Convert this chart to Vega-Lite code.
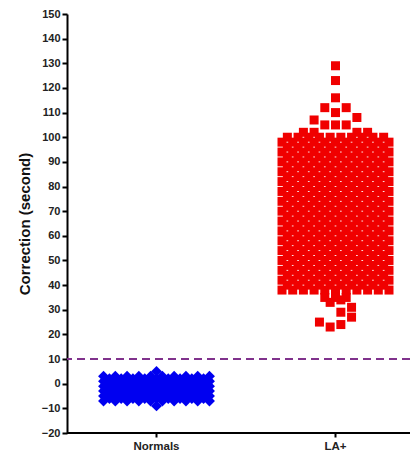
{
 "$schema": "https://vega.github.io/schema/vega-lite/v6.json",
 "width": 343,
 "height": 419,
 "autosize": "none",
 "padding": {"left": 67, "top": 14, "right": 0, "bottom": 20},
 "background": "white",
 "config": {"view": {"stroke": null}, "font": "Liberation Sans"},
 "datasets": {
  "points": [
   {"group":"Normals","value":5,"slot":0},
   {"group":"Normals","value":3,"slot":-4.95},{"group":"Normals","value":3,"slot":-3.85},{"group":"Normals","value":3,"slot":-2.75},{"group":"Normals","value":3,"slot":-1.65},{"group":"Normals","value":3,"slot":-0.55},{"group":"Normals","value":3,"slot":0.55},{"group":"Normals","value":3,"slot":1.65},{"group":"Normals","value":3,"slot":2.75},{"group":"Normals","value":3,"slot":3.85},{"group":"Normals","value":3,"slot":4.95},
   {"group":"Normals","value":2,"slot":-4.4},{"group":"Normals","value":2,"slot":-3.3},{"group":"Normals","value":2,"slot":-2.2},{"group":"Normals","value":2,"slot":-1.1},{"group":"Normals","value":2,"slot":0},{"group":"Normals","value":2,"slot":1.1},{"group":"Normals","value":2,"slot":2.2},{"group":"Normals","value":2,"slot":3.3},{"group":"Normals","value":2,"slot":4.4},
   {"group":"Normals","value":1,"slot":-4.95},{"group":"Normals","value":1,"slot":-3.85},{"group":"Normals","value":1,"slot":-2.75},{"group":"Normals","value":1,"slot":-1.65},{"group":"Normals","value":1,"slot":-0.55},{"group":"Normals","value":1,"slot":0.55},{"group":"Normals","value":1,"slot":1.65},{"group":"Normals","value":1,"slot":2.75},{"group":"Normals","value":1,"slot":3.85},{"group":"Normals","value":1,"slot":4.95},
   {"group":"Normals","value":0,"slot":-4.4},{"group":"Normals","value":0,"slot":-3.3},{"group":"Normals","value":0,"slot":-2.2},{"group":"Normals","value":0,"slot":-1.1},{"group":"Normals","value":0,"slot":0},{"group":"Normals","value":0,"slot":1.1},{"group":"Normals","value":0,"slot":2.2},{"group":"Normals","value":0,"slot":3.3},{"group":"Normals","value":0,"slot":4.4},
   {"group":"Normals","value":-1,"slot":-4.95},{"group":"Normals","value":-1,"slot":-3.85},{"group":"Normals","value":-1,"slot":-2.75},{"group":"Normals","value":-1,"slot":-1.65},{"group":"Normals","value":-1,"slot":-0.55},{"group":"Normals","value":-1,"slot":0.55},{"group":"Normals","value":-1,"slot":1.65},{"group":"Normals","value":-1,"slot":2.75},{"group":"Normals","value":-1,"slot":3.85},{"group":"Normals","value":-1,"slot":4.95},
   {"group":"Normals","value":-2,"slot":-4.4},{"group":"Normals","value":-2,"slot":-3.3},{"group":"Normals","value":-2,"slot":-2.2},{"group":"Normals","value":-2,"slot":-1.1},{"group":"Normals","value":-2,"slot":0},{"group":"Normals","value":-2,"slot":1.1},{"group":"Normals","value":-2,"slot":2.2},{"group":"Normals","value":-2,"slot":3.3},{"group":"Normals","value":-2,"slot":4.4},
   {"group":"Normals","value":-3,"slot":-4.95},{"group":"Normals","value":-3,"slot":-3.85},{"group":"Normals","value":-3,"slot":-2.75},{"group":"Normals","value":-3,"slot":-1.65},{"group":"Normals","value":-3,"slot":-0.55},{"group":"Normals","value":-3,"slot":0.55},{"group":"Normals","value":-3,"slot":1.65},{"group":"Normals","value":-3,"slot":2.75},{"group":"Normals","value":-3,"slot":3.85},{"group":"Normals","value":-3,"slot":4.95},
   {"group":"Normals","value":-4,"slot":-4.4},{"group":"Normals","value":-4,"slot":-3.3},{"group":"Normals","value":-4,"slot":-2.2},{"group":"Normals","value":-4,"slot":-1.1},{"group":"Normals","value":-4,"slot":0},{"group":"Normals","value":-4,"slot":1.1},{"group":"Normals","value":-4,"slot":2.2},{"group":"Normals","value":-4,"slot":3.3},{"group":"Normals","value":-4,"slot":4.4},
   {"group":"Normals","value":-5,"slot":-4.95},{"group":"Normals","value":-5,"slot":-3.85},{"group":"Normals","value":-5,"slot":-2.75},{"group":"Normals","value":-5,"slot":-1.65},{"group":"Normals","value":-5,"slot":-0.55},{"group":"Normals","value":-5,"slot":0.55},{"group":"Normals","value":-5,"slot":1.65},{"group":"Normals","value":-5,"slot":2.75},{"group":"Normals","value":-5,"slot":3.85},{"group":"Normals","value":-5,"slot":4.95},
   {"group":"Normals","value":-6,"slot":-4.4},{"group":"Normals","value":-6,"slot":-3.3},{"group":"Normals","value":-6,"slot":-2.2},{"group":"Normals","value":-6,"slot":-1.1},{"group":"Normals","value":-6,"slot":0},{"group":"Normals","value":-6,"slot":1.1},{"group":"Normals","value":-6,"slot":2.2},{"group":"Normals","value":-6,"slot":3.3},{"group":"Normals","value":-6,"slot":4.4},
   {"group":"Normals","value":-7,"slot":-4.95},{"group":"Normals","value":-7,"slot":-3.85},{"group":"Normals","value":-7,"slot":-2.75},{"group":"Normals","value":-7,"slot":-1.65},{"group":"Normals","value":-7,"slot":-0.55},{"group":"Normals","value":-7,"slot":0.55},{"group":"Normals","value":-7,"slot":1.65},{"group":"Normals","value":-7,"slot":2.75},{"group":"Normals","value":-7,"slot":3.85},{"group":"Normals","value":-7,"slot":4.95},
   {"group":"Normals","value":-9,"slot":0},
   {"group":"LA+","value":129,"slot":0},{"group":"LA+","value":123,"slot":0},{"group":"LA+","value":116,"slot":0},
   {"group":"LA+","value":112,"slot":-1},{"group":"LA+","value":112,"slot":1},{"group":"LA+","value":110,"slot":0},
   {"group":"LA+","value":107,"slot":-2},{"group":"LA+","value":108,"slot":2},
   {"group":"LA+","value":105,"slot":-1},{"group":"LA+","value":105,"slot":0},{"group":"LA+","value":105,"slot":1},
   {"group":"LA+","value":102,"slot":-3},{"group":"LA+","value":102,"slot":-2},{"group":"LA+","value":102,"slot":2},{"group":"LA+","value":102,"slot":3},
   {"group":"LA+","value":100,"slot":-4.5},{"group":"LA+","value":100,"slot":-3.5},{"group":"LA+","value":100,"slot":-2.5},{"group":"LA+","value":100,"slot":-1.5},{"group":"LA+","value":100,"slot":-0.5},{"group":"LA+","value":100,"slot":0.5},{"group":"LA+","value":100,"slot":1.5},{"group":"LA+","value":100,"slot":2.5},{"group":"LA+","value":100,"slot":3.5},{"group":"LA+","value":100,"slot":4.5},
   {"group":"LA+","value":98,"slot":-5},{"group":"LA+","value":98,"slot":-4},{"group":"LA+","value":98,"slot":-3},{"group":"LA+","value":98,"slot":-2},{"group":"LA+","value":98,"slot":-1},{"group":"LA+","value":98,"slot":0},{"group":"LA+","value":98,"slot":1},{"group":"LA+","value":98,"slot":2},{"group":"LA+","value":98,"slot":3},{"group":"LA+","value":98,"slot":4},{"group":"LA+","value":98,"slot":5},
   {"group":"LA+","value":96,"slot":-4.5},{"group":"LA+","value":96,"slot":-3.5},{"group":"LA+","value":96,"slot":-2.5},{"group":"LA+","value":96,"slot":-1.5},{"group":"LA+","value":96,"slot":-0.5},{"group":"LA+","value":96,"slot":0.5},{"group":"LA+","value":96,"slot":1.5},{"group":"LA+","value":96,"slot":2.5},{"group":"LA+","value":96,"slot":3.5},{"group":"LA+","value":96,"slot":4.5},
   {"group":"LA+","value":94,"slot":-5},{"group":"LA+","value":94,"slot":-4},{"group":"LA+","value":94,"slot":-3},{"group":"LA+","value":94,"slot":-2},{"group":"LA+","value":94,"slot":-1},{"group":"LA+","value":94,"slot":0},{"group":"LA+","value":94,"slot":1},{"group":"LA+","value":94,"slot":2},{"group":"LA+","value":94,"slot":3},{"group":"LA+","value":94,"slot":4},{"group":"LA+","value":94,"slot":5},
   {"group":"LA+","value":92,"slot":-4.5},{"group":"LA+","value":92,"slot":-3.5},{"group":"LA+","value":92,"slot":-2.5},{"group":"LA+","value":92,"slot":-1.5},{"group":"LA+","value":92,"slot":-0.5},{"group":"LA+","value":92,"slot":0.5},{"group":"LA+","value":92,"slot":1.5},{"group":"LA+","value":92,"slot":2.5},{"group":"LA+","value":92,"slot":3.5},{"group":"LA+","value":92,"slot":4.5},
   {"group":"LA+","value":90,"slot":-5},{"group":"LA+","value":90,"slot":-4},{"group":"LA+","value":90,"slot":-3},{"group":"LA+","value":90,"slot":-2},{"group":"LA+","value":90,"slot":-1},{"group":"LA+","value":90,"slot":0},{"group":"LA+","value":90,"slot":1},{"group":"LA+","value":90,"slot":2},{"group":"LA+","value":90,"slot":3},{"group":"LA+","value":90,"slot":4},{"group":"LA+","value":90,"slot":5},
   {"group":"LA+","value":88,"slot":-4.5},{"group":"LA+","value":88,"slot":-3.5},{"group":"LA+","value":88,"slot":-2.5},{"group":"LA+","value":88,"slot":-1.5},{"group":"LA+","value":88,"slot":-0.5},{"group":"LA+","value":88,"slot":0.5},{"group":"LA+","value":88,"slot":1.5},{"group":"LA+","value":88,"slot":2.5},{"group":"LA+","value":88,"slot":3.5},{"group":"LA+","value":88,"slot":4.5},
   {"group":"LA+","value":86,"slot":-5},{"group":"LA+","value":86,"slot":-4},{"group":"LA+","value":86,"slot":-3},{"group":"LA+","value":86,"slot":-2},{"group":"LA+","value":86,"slot":-1},{"group":"LA+","value":86,"slot":0},{"group":"LA+","value":86,"slot":1},{"group":"LA+","value":86,"slot":2},{"group":"LA+","value":86,"slot":3},{"group":"LA+","value":86,"slot":4},{"group":"LA+","value":86,"slot":5},
   {"group":"LA+","value":84,"slot":-4.5},{"group":"LA+","value":84,"slot":-3.5},{"group":"LA+","value":84,"slot":-2.5},{"group":"LA+","value":84,"slot":-1.5},{"group":"LA+","value":84,"slot":-0.5},{"group":"LA+","value":84,"slot":0.5},{"group":"LA+","value":84,"slot":1.5},{"group":"LA+","value":84,"slot":2.5},{"group":"LA+","value":84,"slot":3.5},{"group":"LA+","value":84,"slot":4.5},
   {"group":"LA+","value":82,"slot":-5},{"group":"LA+","value":82,"slot":-4},{"group":"LA+","value":82,"slot":-3},{"group":"LA+","value":82,"slot":-2},{"group":"LA+","value":82,"slot":-1},{"group":"LA+","value":82,"slot":0},{"group":"LA+","value":82,"slot":1},{"group":"LA+","value":82,"slot":2},{"group":"LA+","value":82,"slot":3},{"group":"LA+","value":82,"slot":4},{"group":"LA+","value":82,"slot":5},
   {"group":"LA+","value":80,"slot":-4.5},{"group":"LA+","value":80,"slot":-3.5},{"group":"LA+","value":80,"slot":-2.5},{"group":"LA+","value":80,"slot":-1.5},{"group":"LA+","value":80,"slot":-0.5},{"group":"LA+","value":80,"slot":0.5},{"group":"LA+","value":80,"slot":1.5},{"group":"LA+","value":80,"slot":2.5},{"group":"LA+","value":80,"slot":3.5},{"group":"LA+","value":80,"slot":4.5},
   {"group":"LA+","value":78,"slot":-5},{"group":"LA+","value":78,"slot":-4},{"group":"LA+","value":78,"slot":-3},{"group":"LA+","value":78,"slot":-2},{"group":"LA+","value":78,"slot":-1},{"group":"LA+","value":78,"slot":0},{"group":"LA+","value":78,"slot":1},{"group":"LA+","value":78,"slot":2},{"group":"LA+","value":78,"slot":3},{"group":"LA+","value":78,"slot":4},{"group":"LA+","value":78,"slot":5},
   {"group":"LA+","value":76,"slot":-4.5},{"group":"LA+","value":76,"slot":-3.5},{"group":"LA+","value":76,"slot":-2.5},{"group":"LA+","value":76,"slot":-1.5},{"group":"LA+","value":76,"slot":-0.5},{"group":"LA+","value":76,"slot":0.5},{"group":"LA+","value":76,"slot":1.5},{"group":"LA+","value":76,"slot":2.5},{"group":"LA+","value":76,"slot":3.5},{"group":"LA+","value":76,"slot":4.5},
   {"group":"LA+","value":74,"slot":-5},{"group":"LA+","value":74,"slot":-4},{"group":"LA+","value":74,"slot":-3},{"group":"LA+","value":74,"slot":-2},{"group":"LA+","value":74,"slot":-1},{"group":"LA+","value":74,"slot":0},{"group":"LA+","value":74,"slot":1},{"group":"LA+","value":74,"slot":2},{"group":"LA+","value":74,"slot":3},{"group":"LA+","value":74,"slot":4},{"group":"LA+","value":74,"slot":5},
   {"group":"LA+","value":72,"slot":-4.5},{"group":"LA+","value":72,"slot":-3.5},{"group":"LA+","value":72,"slot":-2.5},{"group":"LA+","value":72,"slot":-1.5},{"group":"LA+","value":72,"slot":-0.5},{"group":"LA+","value":72,"slot":0.5},{"group":"LA+","value":72,"slot":1.5},{"group":"LA+","value":72,"slot":2.5},{"group":"LA+","value":72,"slot":3.5},{"group":"LA+","value":72,"slot":4.5},
   {"group":"LA+","value":70,"slot":-5},{"group":"LA+","value":70,"slot":-4},{"group":"LA+","value":70,"slot":-3},{"group":"LA+","value":70,"slot":-2},{"group":"LA+","value":70,"slot":-1},{"group":"LA+","value":70,"slot":0},{"group":"LA+","value":70,"slot":1},{"group":"LA+","value":70,"slot":2},{"group":"LA+","value":70,"slot":3},{"group":"LA+","value":70,"slot":4},{"group":"LA+","value":70,"slot":5},
   {"group":"LA+","value":68,"slot":-4.5},{"group":"LA+","value":68,"slot":-3.5},{"group":"LA+","value":68,"slot":-2.5},{"group":"LA+","value":68,"slot":-1.5},{"group":"LA+","value":68,"slot":-0.5},{"group":"LA+","value":68,"slot":0.5},{"group":"LA+","value":68,"slot":1.5},{"group":"LA+","value":68,"slot":2.5},{"group":"LA+","value":68,"slot":3.5},{"group":"LA+","value":68,"slot":4.5},
   {"group":"LA+","value":66,"slot":-5},{"group":"LA+","value":66,"slot":-4},{"group":"LA+","value":66,"slot":-3},{"group":"LA+","value":66,"slot":-2},{"group":"LA+","value":66,"slot":-1},{"group":"LA+","value":66,"slot":0},{"group":"LA+","value":66,"slot":1},{"group":"LA+","value":66,"slot":2},{"group":"LA+","value":66,"slot":3},{"group":"LA+","value":66,"slot":4},{"group":"LA+","value":66,"slot":5},
   {"group":"LA+","value":64,"slot":-4.5},{"group":"LA+","value":64,"slot":-3.5},{"group":"LA+","value":64,"slot":-2.5},{"group":"LA+","value":64,"slot":-1.5},{"group":"LA+","value":64,"slot":-0.5},{"group":"LA+","value":64,"slot":0.5},{"group":"LA+","value":64,"slot":1.5},{"group":"LA+","value":64,"slot":2.5},{"group":"LA+","value":64,"slot":3.5},{"group":"LA+","value":64,"slot":4.5},
   {"group":"LA+","value":62,"slot":-5},{"group":"LA+","value":62,"slot":-4},{"group":"LA+","value":62,"slot":-3},{"group":"LA+","value":62,"slot":-2},{"group":"LA+","value":62,"slot":-1},{"group":"LA+","value":62,"slot":0},{"group":"LA+","value":62,"slot":1},{"group":"LA+","value":62,"slot":2},{"group":"LA+","value":62,"slot":3},{"group":"LA+","value":62,"slot":4},{"group":"LA+","value":62,"slot":5},
   {"group":"LA+","value":60,"slot":-4.5},{"group":"LA+","value":60,"slot":-3.5},{"group":"LA+","value":60,"slot":-2.5},{"group":"LA+","value":60,"slot":-1.5},{"group":"LA+","value":60,"slot":-0.5},{"group":"LA+","value":60,"slot":0.5},{"group":"LA+","value":60,"slot":1.5},{"group":"LA+","value":60,"slot":2.5},{"group":"LA+","value":60,"slot":3.5},{"group":"LA+","value":60,"slot":4.5},
   {"group":"LA+","value":58,"slot":-5},{"group":"LA+","value":58,"slot":-4},{"group":"LA+","value":58,"slot":-3},{"group":"LA+","value":58,"slot":-2},{"group":"LA+","value":58,"slot":-1},{"group":"LA+","value":58,"slot":0},{"group":"LA+","value":58,"slot":1},{"group":"LA+","value":58,"slot":2},{"group":"LA+","value":58,"slot":3},{"group":"LA+","value":58,"slot":4},{"group":"LA+","value":58,"slot":5},
   {"group":"LA+","value":56,"slot":-4.5},{"group":"LA+","value":56,"slot":-3.5},{"group":"LA+","value":56,"slot":-2.5},{"group":"LA+","value":56,"slot":-1.5},{"group":"LA+","value":56,"slot":-0.5},{"group":"LA+","value":56,"slot":0.5},{"group":"LA+","value":56,"slot":1.5},{"group":"LA+","value":56,"slot":2.5},{"group":"LA+","value":56,"slot":3.5},{"group":"LA+","value":56,"slot":4.5},
   {"group":"LA+","value":54,"slot":-5},{"group":"LA+","value":54,"slot":-4},{"group":"LA+","value":54,"slot":-3},{"group":"LA+","value":54,"slot":-2},{"group":"LA+","value":54,"slot":-1},{"group":"LA+","value":54,"slot":0},{"group":"LA+","value":54,"slot":1},{"group":"LA+","value":54,"slot":2},{"group":"LA+","value":54,"slot":3},{"group":"LA+","value":54,"slot":4},{"group":"LA+","value":54,"slot":5},
   {"group":"LA+","value":52,"slot":-4.5},{"group":"LA+","value":52,"slot":-3.5},{"group":"LA+","value":52,"slot":-2.5},{"group":"LA+","value":52,"slot":-1.5},{"group":"LA+","value":52,"slot":-0.5},{"group":"LA+","value":52,"slot":0.5},{"group":"LA+","value":52,"slot":1.5},{"group":"LA+","value":52,"slot":2.5},{"group":"LA+","value":52,"slot":3.5},{"group":"LA+","value":52,"slot":4.5},
   {"group":"LA+","value":50,"slot":-5},{"group":"LA+","value":50,"slot":-4},{"group":"LA+","value":50,"slot":-3},{"group":"LA+","value":50,"slot":-2},{"group":"LA+","value":50,"slot":-1},{"group":"LA+","value":50,"slot":0},{"group":"LA+","value":50,"slot":1},{"group":"LA+","value":50,"slot":2},{"group":"LA+","value":50,"slot":3},{"group":"LA+","value":50,"slot":4},{"group":"LA+","value":50,"slot":5},
   {"group":"LA+","value":48,"slot":-4.5},{"group":"LA+","value":48,"slot":-3.5},{"group":"LA+","value":48,"slot":-2.5},{"group":"LA+","value":48,"slot":-1.5},{"group":"LA+","value":48,"slot":-0.5},{"group":"LA+","value":48,"slot":0.5},{"group":"LA+","value":48,"slot":1.5},{"group":"LA+","value":48,"slot":2.5},{"group":"LA+","value":48,"slot":3.5},{"group":"LA+","value":48,"slot":4.5},
   {"group":"LA+","value":46,"slot":-5},{"group":"LA+","value":46,"slot":-4},{"group":"LA+","value":46,"slot":-3},{"group":"LA+","value":46,"slot":-2},{"group":"LA+","value":46,"slot":-1},{"group":"LA+","value":46,"slot":0},{"group":"LA+","value":46,"slot":1},{"group":"LA+","value":46,"slot":2},{"group":"LA+","value":46,"slot":3},{"group":"LA+","value":46,"slot":4},{"group":"LA+","value":46,"slot":5},
   {"group":"LA+","value":44,"slot":-4.5},{"group":"LA+","value":44,"slot":-3.5},{"group":"LA+","value":44,"slot":-2.5},{"group":"LA+","value":44,"slot":-1.5},{"group":"LA+","value":44,"slot":-0.5},{"group":"LA+","value":44,"slot":0.5},{"group":"LA+","value":44,"slot":1.5},{"group":"LA+","value":44,"slot":2.5},{"group":"LA+","value":44,"slot":3.5},{"group":"LA+","value":44,"slot":4.5},
   {"group":"LA+","value":42,"slot":-5},{"group":"LA+","value":42,"slot":-4},{"group":"LA+","value":42,"slot":-3},{"group":"LA+","value":42,"slot":-2},{"group":"LA+","value":42,"slot":-1},{"group":"LA+","value":42,"slot":0},{"group":"LA+","value":42,"slot":1},{"group":"LA+","value":42,"slot":2},{"group":"LA+","value":42,"slot":3},{"group":"LA+","value":42,"slot":4},{"group":"LA+","value":42,"slot":5},
   {"group":"LA+","value":40,"slot":-4.5},{"group":"LA+","value":40,"slot":-3.5},{"group":"LA+","value":40,"slot":-2.5},{"group":"LA+","value":40,"slot":-1.5},{"group":"LA+","value":40,"slot":-0.5},{"group":"LA+","value":40,"slot":0.5},{"group":"LA+","value":40,"slot":1.5},{"group":"LA+","value":40,"slot":2.5},{"group":"LA+","value":40,"slot":3.5},{"group":"LA+","value":40,"slot":4.5},
   {"group":"LA+","value":38,"slot":-5},{"group":"LA+","value":38,"slot":-4},{"group":"LA+","value":38,"slot":-3},{"group":"LA+","value":38,"slot":-2},{"group":"LA+","value":38,"slot":-1},{"group":"LA+","value":38,"slot":0},{"group":"LA+","value":38,"slot":1},{"group":"LA+","value":38,"slot":2},{"group":"LA+","value":38,"slot":3},{"group":"LA+","value":38,"slot":4},{"group":"LA+","value":38,"slot":5},
   {"group":"LA+","value":35,"slot":-1},{"group":"LA+","value":35,"slot":0},{"group":"LA+","value":35,"slot":1},
   {"group":"LA+","value":33,"slot":-0.5},{"group":"LA+","value":34,"slot":0.5},{"group":"LA+","value":31,"slot":1.5},{"group":"LA+","value":29,"slot":0.5},{"group":"LA+","value":27,"slot":1.5},
   {"group":"LA+","value":25,"slot":-1.5},{"group":"LA+","value":23,"slot":-0.5},{"group":"LA+","value":24,"slot":0.5}
  ]
 },
 "encoding": {
  "y": {"field": "value", "type": "quantitative",
        "scale": {"domain": [-20, 150], "nice": false, "zero": false},
        "axis": {"title": "Correction (second)", "values": [-20,-10,0,10,20,30,40,50,60,70,80,90,100,110,120,130,140,150],
                 "labelOverlap": false, "labelBound": false, "labelFlush": false,
                 "grid": false, "domainColor": "black", "domainWidth": 2, "tickColor": "black", "tickWidth": 2, "tickSize": 5,
                 "labelFont": "Liberation Sans", "labelFontSize": 11, "labelFontWeight": "bold", "labelColor": "#222", "labelPadding": 2,
                 "titleFont": "Liberation Sans", "titleFontSize": 15, "titleFontWeight": "bold", "titleColor": "#111", "titlePadding": 9}}
 },
 "layer": [
  {
   "data": {"name": "points"},
   "mark": {"type": "point", "filled": true, "opacity": 1, "strokeWidth": 0},
   "encoding": {
    "x": {"field": "group", "type": "nominal",
          "scale": {"type": "band", "domain": ["Normals", "LA+"], "range": [0, 358], "paddingInner": 0, "paddingOuter": 0},
          "axis": {"title": null, "domain": false, "grid": false, "ticks": true, "tickSize": 4, "tickWidth": 2, "tickColor": "black", "tickBand": "center",
                   "labelFont": "Liberation Sans", "labelFontSize": 11.5, "labelFontWeight": "bold", "labelColor": "#222", "labelPadding": 3, "labelAngle": 0}},
    "xOffset": {"field": "slot", "type": "quantitative", "scale": {"domain": [-5, 5], "range": [36, 143]}},
    "color": {"field": "group", "type": "nominal", "scale": {"domain": ["Normals", "LA+"], "range": ["#0000f0", "#f00000"]}, "legend": null},
    "shape": {"field": "group", "type": "nominal", "scale": {"domain": ["Normals", "LA+"], "range": ["diamond", "square"]}, "legend": null},
    "size": {"field": "group", "type": "nominal", "scale": {"domain": ["Normals", "LA+"], "range": [120, 81]}, "legend": null}
   }
  },
  {
   "data": {"values": [{"value": 10}]},
   "mark": {"type": "rule", "color": "#80328c", "strokeDash": [8, 5], "strokeWidth": 2},
   "encoding": {}
  },
  {
   "data": {"values": [{"value": -20}]},
   "mark": {"type": "rule", "color": "black", "strokeWidth": 2},
   "encoding": {}
  }
 ]
}
